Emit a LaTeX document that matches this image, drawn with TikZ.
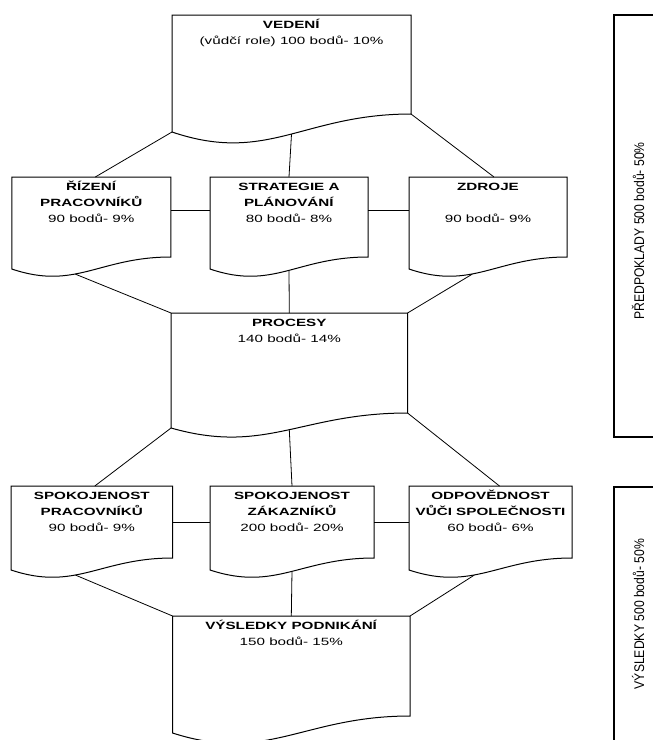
\documentclass[tikz,border=0pt]{standalone}
\usepackage{fontspec}
\setmainfont{Liberation Sans}[FakeStretch=1.45]
\newfontfamily\sidefont{Liberation Sans}[FakeStretch=0.87]
\usetikzlibrary{calc}

\newcommand{\doctext}[3]{\parbox[c][#2pt][t]{#1pt}{\fontsize{10.5}{16}\selectfont\centering\rule{0pt}{13.5pt}#3}}

\begin{document}
\begin{tikzpicture}[x=1pt,y=-1pt,
	doc/.style={inner sep=0pt,outer sep=0pt},
	docline/.style={line width=1pt},
	link/.style={line width=0.8pt},
	side/.style={draw,line width=2pt,inner sep=0pt},
	sidetext/.style={rotate=90,font=\sidefont\fontsize{14}{16}\selectfont}]
	\useasboundingbox (0,0) rectangle (653,740);

	\node(ved) [doc] at (291.5,64.5) {\doctext{239}{99}{\textbf{VEDENÍ}\\(vůdčí role) 100 bodů- 10\%}};
	\node(riz) [doc] at (91.3,217) {\doctext{159}{80}{\textbf{ŘÍZENÍ}\\\textbf{PRACOVNÍKŮ}\\90 bodů- 9\%}};
	\node(str) [doc] at (289,217) {\doctext{158}{80}{\textbf{STRATEGIE A}\\\textbf{PLÁNOVÁNÍ}\\80 bodů- 8\%}};
	\node(zdr) [doc] at (488,217) {\doctext{158}{80}{\textbf{ZDROJE}\\[16pt]90 bodů- 9\%}};
	\node(pro) [doc] at (289.3,363) {\doctext{236.5}{100}{\textbf{PROCESY}\\140 bodů- 14\%}};
	\node(spp) [doc] at (91.8,522) {\doctext{161.5}{72}{\textbf{SPOKOJENOST}\\\textbf{PRACOVNÍKŮ}\\90 bodů- 9\%}};
	\node(spz) [doc] at (292,522) {\doctext{164}{72}{\textbf{SPOKOJENOST}\\\textbf{ZÁKAZNÍKŮ}\\200 bodů- 20\%}};
	\node(odp) [doc] at (490.5,522) {\doctext{163}{72}{\textbf{ODPOVĚDNOST}\\\textbf{VŮČI SPOLEČNOSTI}\\60 bodů- 6\%}};
	\node(vys) [doc] at (291.3,666) {\doctext{237.5}{100}{\textbf{VÝSLEDKY PODNIKÁNÍ}\\150 bodů- 15\%}};

	\foreach \n/\d in {ved/18,riz/12,str/12,zdr/12,pro/15,spp/12,spz/12,odp/12,vys/17}{
		\draw[docline] (\n.north west) -- (\n.north east) -- (\n.south east)
			.. controls ($(\n.south west)!0.55!(\n.south east)$) and ($(\n.south west)!0.4!(\n.south east)+(0,2.8*\d)$) .. ($(\n.south west)+(0,\d)$) -- cycle;
		\coordinate(\n-sw) at ($(\n.south west)+(0,\d)$);
		\coordinate(\n-mid) at ($(\n.south)+(0,1.12*\d)$);
		\coordinate(\n-low) at ($(\n.south west)!0.4!(\n.south east)+(0,1.43*\d)$);
	}

	\node(predbox) [side,minimum width=70pt,minimum height=422pt] at (649,226) {};
	\node(vysbox) [side,minimum width=70pt,minimum height=293pt] at (649,633.5) {};
	\node(pred) [sidetext] at (638,231) {PŘEDPOKLADY 500 bodů- 50\%};
	\node(vyst) [sidetext] at (638,614) {VÝSLEDKY 500 bodů- 50\%};

	\draw[link] (ved-sw) -- ([xshift=4pt]riz.north);
	\draw[link] (ved-mid) -- (str.north);
	\draw[link] (ved.south east) -- ([xshift=6pt]zdr.north);
	\draw[link] ([yshift=7pt]riz.east) -- ([yshift=7pt]str.west);
	\draw[link] ([yshift=7pt]str.east) -- ([yshift=7pt]zdr.west);
	\draw[link] (riz-low) -- (pro.north west);
	\draw[link] (str-mid) -- (pro.north);
	\draw[link] (zdr-low) -- (pro.north east);

	\draw[link] (pro-sw) -- ([xshift=3pt]spp.north);
	\draw[link] (pro-mid) -- (spz.north);
	\draw[link] (pro.south east) -- ([xshift=9pt]odp.north);
	\draw[link] (spp.east) -- (spz.west);
	\draw[link] (spz.east) -- (odp.west);
	\draw[link] (spp-low) -- (vys.north west);
	\draw[link] (spz-mid) -- (vys.north);
	\draw[link] (odp-low) -- (vys.north east);

\end{tikzpicture}
\end{document}
